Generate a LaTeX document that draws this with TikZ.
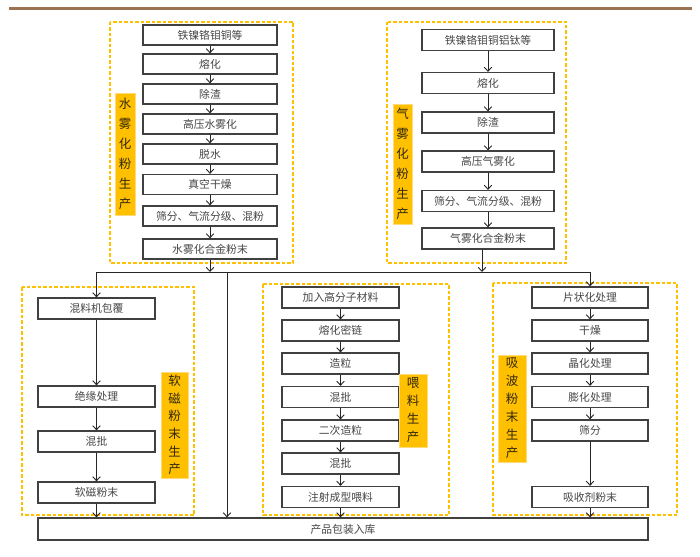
\documentclass[tikz,border=0pt]{standalone}
\usepackage{fontspec}
\newfontfamily\cjk{Noto Sans CJK SC}
\usetikzlibrary{arrows.meta}
\definecolor{rulebrown}{RGB}{156,115,82}
\definecolor{dashy}{RGB}{255,192,0}
\definecolor{labfill}{RGB}{255,192,0}
\definecolor{boxline}{RGB}{64,64,64}
\definecolor{boxtext}{RGB}{70,70,70}
\tikzset{
  stepbox/.style={draw=boxline, line width=1.3pt, fill=white, inner sep=0pt,
    font=\cjk\fontsize{10.8}{12}\selectfont, text=boxtext},
  grpbox/.style={draw=dashy, line width=1.2pt, dash pattern=on 3.5pt off 2pt},
  labbox/.style={fill=labfill, draw={rgb,255:red,255;green,220;blue,120}, line width=0.6pt,
    inner sep=0pt, align=center, text={rgb,255:red,50;green,40;blue,10}},
  arr/.style={draw=black!85, line width=0.9pt, -{Straight Barb[length=4pt,width=7.5pt]}},
  con/.style={draw=black!85, line width=0.9pt},
}
\begin{document}
\begin{tikzpicture}[x=1pt,y=-1pt]
\useasboundingbox (0,0) rectangle (700,556);
\draw[rulebrown, line width=3pt] (9,9) -- (692,9);

% group frames
\draw[grpbox] (110,22) rectangle (293,263);
\draw[grpbox] (387,22) rectangle (566,263);
\draw[grpbox] (22,287) rectangle (194,515);
\draw[grpbox] (263,284) rectangle (449,515);
\draw[grpbox] (493,283) rectangle (677,515);

% water atomization
\foreach \n/\y/\t in {w1/35/铁镍铬钼铜等, w2/64/熔化, w3/94/除渣, w4/124/高压水雾化, w5/154/脱水, w6/184.5/真空干燥, w7/216/筛分、气流分级、混粉, w8/249/水雾化合金粉末}
  \node[stepbox, minimum width=134pt, minimum height=20pt] (\n) at (210,\y) {\t};
\foreach \a/\b in {w1/w2,w2/w3,w3/w4,w4/w5,w5/w6,w6/w7,w7/w8}
  \draw[arr] (\a) -- (\b);
\node[labbox, minimum width=20pt, minimum height=122pt, font=\cjk\fontsize{12.5}{20}\selectfont] (wl) at (125,154) {水\\雾\\化\\粉\\生\\产};

% gas atomization
\foreach \n/\y/\t in {g1/40/铁镍铬钼铜铝钛等, g2/83/熔化, g3/122.5/除渣, g4/161.5/高压气雾化, g5/201/筛分、气流分级、混粉, g6/238.5/气雾化合金粉末}
  \node[stepbox, minimum width=132pt, minimum height=21pt] (\n) at (488,\y) {\t};
\foreach \a/\b in {g1/g2,g2/g3,g3/g4,g4/g5,g5/g6}
  \draw[arr] (\a) -- (\b);
\node[labbox, minimum width=19pt, minimum height=120pt, font=\cjk\fontsize{12.5}{20}\selectfont] (gl) at (402.5,164) {气\\雾\\化\\粉\\生\\产};

% junction line
\coordinate (jL) at (210,272);
\coordinate (jR) at (482,272);
\coordinate (hL) at (96.5,272);
\coordinate (hM) at (227,272);
\coordinate (hR) at (590,272);
\draw[arr] (w8) -- (jL);
\draw[arr] (g6.south -| jR) -- (jR);
\draw[con] (hL) -- (hR);

% soft magnetic
\foreach \n/\y/\t in {s1/308.5/混料机包覆, s2/396.5/绝缘处理, s3/441.5/混批, s4/492.5/软磁粉末}
  \node[stepbox, minimum width=117pt, minimum height=21pt] (\n) at (96.5,\y) {\t};
\foreach \a/\b in {s1/s2,s2/s3,s3/s4}
  \draw[arr] (\a) -- (\b);
\node[labbox, minimum width=27pt, minimum height=106pt, font=\cjk\fontsize{12.5}{17.7}\selectfont] (sl) at (174.5,425) {软\\磁\\粉\\末\\生\\产};

% feedstock
\foreach \n/\y/\t in {f1/297.5/加入高分子材料, f2/330.5/熔化密链, f3/363.5/造粒, f4/397/混批, f5/430.5/二次造粒, f6/463.5/混批, f7/497/注射成型喂料}
  \node[stepbox, minimum width=117pt, minimum height=21pt] (\n) at (340.5,\y) {\t};
\foreach \a/\b in {f1/f2,f2/f3,f3/f4,f4/f5,f5/f6,f6/f7}
  \draw[arr] (\a) -- (\b);
\node[labbox, minimum width=28pt, minimum height=73pt, font=\cjk\fontsize{12.5}{18}\selectfont] (fl) at (413,410.5) {喂\\料\\生\\产};

% absorbing powder
\foreach \n/\y/\t in {a1/297.5/片状化处理, a2/330.5/干燥, a3/363.5/晶化处理, a4/397/膨化处理, a5/430.5/筛分, a6/497/吸收剂粉末}
  \node[stepbox, minimum width=116pt, minimum height=21pt] (\n) at (590,\y) {\t};
\foreach \a/\b in {a1/a2,a2/a3,a3/a4,a4/a5,a5/a6}
  \draw[arr] (\a) -- (\b);
\node[labbox, minimum width=28pt, minimum height=107pt, font=\cjk\fontsize{12.5}{18}\selectfont] (al) at (512,408.5) {吸\\波\\粉\\末\\生\\产};

% product
\node[stepbox, minimum width=610pt, minimum height=22pt] (p) at (343,529) {产品包装入库};

\draw[arr] (hL) -- (s1);
\draw[arr] (hR) -- (a1);
\draw[arr] (hM) -- (hM |- p.north);
\draw[arr] (s4) -- (s4 |- p.north);
\draw[arr] (f7) -- (f7 |- p.north);
\draw[arr] (a6) -- (a6 |- p.north);
\end{tikzpicture}
\end{document}
